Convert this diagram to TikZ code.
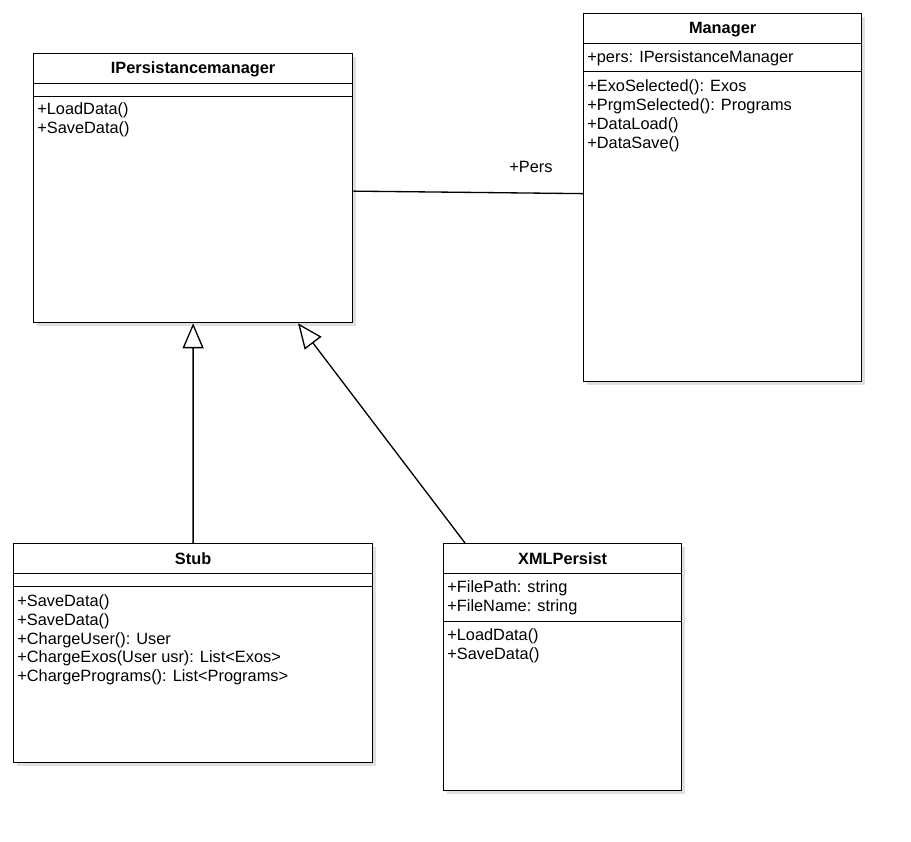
\documentclass[tikz,border=0pt]{standalone}
\usepackage{fontspec}
\setmainfont{Liberation Sans}
\usetikzlibrary{positioning, arrows.meta, calc, shadows}

\begin{document}
\begin{tikzpicture}[
    x=0.02cm, y=-0.02cm,
    classbox/.style={rectangle, draw, line width=0.75pt, fill=white, anchor=north west, inner sep=0pt,
        drop shadow={shadow xshift=0.06cm, shadow yshift=-0.06cm, fill=black!12, opacity=1}},
    classname/.style={anchor=base, inner sep=0pt, font=\fontsize{9.3pt}{10.7pt}\selectfont\bfseries},
    members/.style={anchor=base west, inner sep=0pt, align=left, font=\fontsize{9.3pt}{10.7pt}\selectfont},
    sep/.style={line width=0.75pt},
    assoc/.style={line width=0.75pt},
    inherit/.style={-{Triangle[length=0.5cm, width=0.42cm, fill=white]}, line width=0.75pt},
]
\useasboundingbox (0,0) rectangle (911,841);

% Interface (base of a member block = its last line)
\node[classbox, minimum width=6.38cm, minimum height=5.38cm] (ipm) at (33,53) {};
\node[classname] (ipmname) at ($(ipm.north)+(0,20.5)$) {IPersistancemanager};
\draw[sep] (33,83.3) -- (352,83.3);
\draw[sep] (33,96.7) -- (352,96.7);
\node[members] (ipmops) at ($(ipm.north west)+(4,80.75)$) {
    +LoadData()\\
    +SaveData()
};

% Manager
\node[classbox, minimum width=5.56cm, minimum height=7.36cm] (mgr) at (583,13) {};
\node[classname] (mgrname) at ($(mgr.north)+(0,21)$) {Manager};
\draw[sep] (583,43.3) -- (861,43.3);
\draw[sep] (583,71.7) -- (861,71.7);
\node[members] (mgrattr) at ($(mgr.north west)+(4,50)$) {+pers: IPersistanceManager};
\node[members] (mgrops) at ($(mgr.north west)+(4,135.25)$) {
    +ExoSelected(): Exos\\
    +PrgmSelected(): Programs\\
    +DataLoad()\\
    +DataSave()
};

% Stub
\node[classbox, minimum width=7.18cm, minimum height=4.38cm] (stub) at (13,543) {};
\node[classname] (stubname) at ($(stub.north)+(0,21)$) {Stub};
\draw[sep] (13,573.3) -- (372,573.3);
\draw[sep] (13,586.7) -- (372,586.7);
\node[members] (stubops) at ($(stub.north west)+(4,138.7)$) {
    +SaveData()\\
    +SaveData()\\
    +ChargeUser(): User\\
    +ChargeExos(User usr): List<Exos>\\
    +ChargePrograms(): List<Programs>
};

% XMLPersist
\node[classbox, minimum width=4.76cm, minimum height=4.94cm] (xml) at (443,543) {};
\node[classname] (xmlname) at ($(xml.north)+(0,21)$) {XMLPersist};
\draw[sep] (443,573.3) -- (681,573.3);
\draw[sep] (443,621.7) -- (681,621.7);
\node[members] (xmlattr) at ($(xml.north west)+(4,68.75)$) {
    +FilePath: string\\
    +FileName: string
};
\node[members] (xmlops) at ($(xml.north west)+(4,116.25)$) {
    +LoadData()\\
    +SaveData()
};

% Relations
\draw[assoc] ($(ipm.east)+(0,3)$) -- ($(mgr.west)+(0,-4)$);
\node[anchor=base west, inner sep=0pt, font=\fontsize{9.3pt}{10.7pt}\selectfont] (perslbl) at (509,173) {+Pers};
\draw[inherit] (stub.north) -- (ipm.south);
\draw[inherit] ($(xml.north west)+(22,0)$) -- ($(ipm.south west)+(265,0)$);

\end{tikzpicture}
\end{document}
